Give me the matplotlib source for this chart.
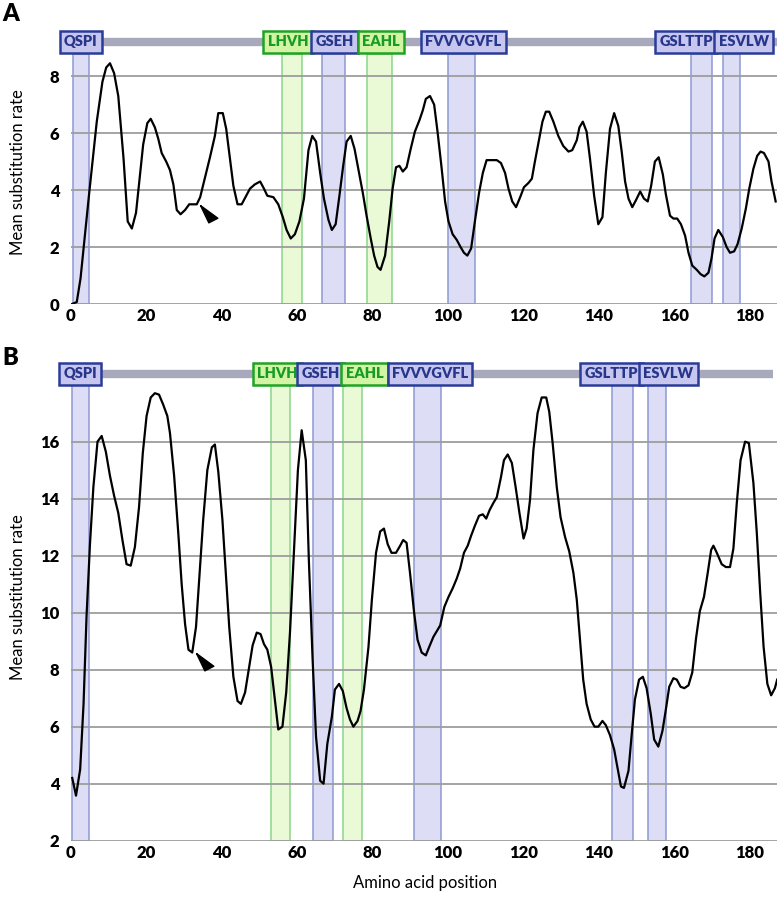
import matplotlib
matplotlib.use('Agg')
import matplotlib.pyplot as plt
from matplotlib import font_manager

# ---- panel A: mean substitution rate along the sequence
a_pos = [0.3, 1.6, 2.6, 4.9, 6.9, 8.4, 9.4, 10.4, 11.5, 12.6, 14.0, 15.1, 16.2, 17.3, 18.4, 19.2,
         20.3, 21.2, 22.3, 23.2, 24.1, 25.3, 26.3, 27.2, 28.1, 29.1, 30.3, 31.4, 33.4, 34.3, 35.6,
         36.9, 38.2, 39.1, 40.3, 41.2, 42.2, 43.1, 44.2, 45.3, 46.5, 47.5, 48.8, 50.2, 51.2, 52.1,
         53.7, 55.0, 56.2, 57.2, 58.3, 59.4, 60.6, 61.8, 63.0, 64.0, 65.0, 66.1, 67.1, 68.3, 69.2,
         70.2, 71.2, 72.2, 73.1, 74.2, 75.2, 76.2, 77.4, 78.4, 79.5, 80.4, 81.3, 82.1, 83.3, 84.4,
         85.3, 86.2, 87.1, 88.0, 89.0, 90.1, 91.2, 92.4, 93.3, 94.1, 95.2, 96.3, 97.2, 98.3, 99.2,
         100.1, 101.2, 102.3, 103.3, 104.2, 105.1, 106.1, 107.1, 108.2, 109.2, 110.2, 111.3, 112.9,
         114.0, 115.1, 116.0, 117.0, 118.0, 119.1, 120.1, 121.3, 122.2, 123.0, 124.0, 125.0, 125.9,
         126.8, 127.9, 129.2, 130.5, 131.9, 132.9, 134.1, 134.8, 135.7, 136.7, 137.6, 138.7, 139.8,
         140.9, 141.8, 142.9, 144.0, 145.1, 146.0, 146.9, 147.8, 148.8, 149.8, 150.9, 151.9, 152.9,
         153.8, 154.8, 155.8, 156.9, 157.7, 158.8, 159.7, 160.7, 161.7, 162.8, 163.7, 164.7, 165.9,
         166.9, 167.9, 169.0, 169.8, 170.6, 171.6, 172.8, 173.8, 174.7, 175.8, 176.7, 177.8, 178.9,
         179.8, 180.9, 181.9, 182.8, 183.7, 184.9, 185.7, 186.8]
a_rate = [0.0, 0.07, 0.9, 3.9, 6.4, 7.8, 8.3, 8.45, 8.1, 7.3, 5.1, 2.9, 2.65, 3.2, 4.6, 5.6,
          6.35, 6.5, 6.2, 5.8, 5.3, 5.0, 4.7, 4.2, 3.3, 3.15, 3.3, 3.5, 3.5, 3.75, 4.45,
          5.15, 5.9, 6.7, 6.7, 6.15, 5.1, 4.15, 3.5, 3.5, 3.8, 4.05, 4.2, 4.3, 4.05, 3.8,
          3.75, 3.5, 3.05, 2.6, 2.3, 2.45, 2.9, 3.7, 5.4, 5.9, 5.7, 4.6, 3.7, 2.95, 2.6,
          2.8, 3.8, 4.85, 5.7, 5.9, 5.45, 4.75, 3.9, 3.1, 2.3, 1.7, 1.3, 1.2, 1.7, 2.9,
          4.05, 4.8, 4.85, 4.65, 4.8, 5.45, 6.05, 6.45, 6.8, 7.2, 7.3, 7.0, 6.05, 4.75, 3.6,
          2.9, 2.45, 2.25, 2.0, 1.8, 1.7, 1.95, 2.9, 3.9, 4.6, 5.05, 5.05, 5.05,
          4.95, 4.6, 4.05, 3.6, 3.4, 3.75, 4.1, 4.25, 4.4, 5.0, 5.7, 6.4, 6.75,
          6.75, 6.4, 5.9, 5.55, 5.35, 5.4, 5.75, 6.2, 6.4, 6.05, 5.1, 3.8, 2.8,
          3.05, 4.6, 6.15, 6.7, 6.25, 5.35, 4.3, 3.7, 3.4, 3.65, 3.95, 3.7, 3.6,
          4.15, 5.0, 5.15, 4.55, 3.85, 3.1, 3.0, 3.0, 2.8, 2.4, 1.8, 1.35, 1.2,
          1.05, 0.97, 1.1, 1.6, 2.3, 2.6, 2.35, 2.0, 1.8, 1.85, 2.1, 2.65, 3.35,
          4.05, 4.75, 5.2, 5.35, 5.3, 5.0, 4.3, 3.6]

# ---- panel B
b_pos = [0.4, 1.4, 2.5, 3.4, 4.2, 5.1, 6.0, 7.1, 8.2, 9.3, 10.4, 11.5, 12.6, 13.7, 14.8, 15.9,
         17.0, 18.1, 19.1, 20.1, 21.2, 22.3, 23.4, 24.5, 25.6, 26.3, 27.4, 28.5, 29.4, 30.3, 31.2,
         32.2, 33.2, 34.1, 35.1, 36.2, 37.4, 38.2, 39.1, 40.2, 41.1, 42.0, 43.1, 44.2, 45.1, 46.2,
         47.3, 48.2, 49.3, 50.3, 51.2, 52.1, 53.1, 54.1, 55.0, 56.1, 57.1, 58.1, 59.2, 60.2, 61.2,
         62.3, 63.1, 64.1, 65.0, 66.1, 67.0, 68.0, 69.2, 70.0, 71.1, 72.1, 73.1, 74.0, 74.9, 76.0,
         76.8, 77.7, 78.9, 79.8, 80.9, 82.0, 83.0, 84.0, 85.0, 86.2, 87.3, 88.1, 89.0, 89.9, 91.0,
         91.9, 93.0, 94.1, 95.0, 96.1, 97.0, 97.9, 99.0, 100.1, 101.2, 102.3, 103.2, 104.2, 105.2,
         106.1, 107.1, 108.2, 109.2, 110.1, 111.0, 112.0, 112.9, 114.0, 114.8, 115.8, 116.9, 117.9,
         118.9, 120.0, 120.8, 121.7, 122.6, 123.7, 124.8, 126.0, 126.8, 127.7, 128.8, 129.8, 131.0,
         132.1, 133.2, 134.1, 135.0, 135.8, 136.7, 137.8, 138.8, 139.8, 140.9, 141.8, 142.9, 144.0,
         144.9, 145.8, 146.6, 147.8, 148.6, 149.5, 150.6, 151.6, 152.6, 153.7, 154.6, 155.7, 156.8,
         157.7, 158.6, 159.7, 160.6, 161.6, 162.6, 163.7, 164.7, 165.7, 166.7, 167.8, 168.8, 169.7,
         170.3, 171.2, 172.5, 173.6, 174.7, 175.6, 176.5, 177.5, 178.7, 179.7, 180.9, 181.8, 182.7,
         183.6, 184.6, 185.6, 186.6, 187.2]
b_rate = [4.2, 3.58, 4.5, 6.8, 9.9, 12.4, 14.4, 16.0, 16.2, 15.65, 14.8, 14.1, 13.5, 12.55, 11.7, 11.65,
          12.3, 13.7, 15.6, 16.9, 17.55, 17.7, 17.65, 17.3, 16.9, 16.3, 14.8, 12.8, 11.0, 9.6, 8.7,
          8.6, 9.5, 11.25, 13.25, 15.0, 15.8, 15.9, 14.95, 13.25, 11.4, 9.5, 7.75, 6.9, 6.8, 7.2,
          8.1, 8.85, 9.3, 9.25, 8.9, 8.7, 8.1, 6.95, 5.9, 6.0, 7.2, 9.3, 12.3, 15.0, 16.4,
          15.35, 11.85, 8.35, 5.65, 4.1, 4.0, 5.4, 6.35, 7.3, 7.5, 7.25, 6.65, 6.25, 6.0, 6.2,
          6.55, 7.3, 8.8, 10.45, 12.1, 12.85, 12.95, 12.4, 12.1, 12.1, 12.35, 12.55, 12.45, 11.4, 10.0,
          9.05, 8.6, 8.5, 8.8, 9.15, 9.35, 9.55, 10.2, 10.55, 10.85, 11.2, 11.55, 12.1, 12.35,
          12.7, 13.05, 13.4, 13.45, 13.3, 13.6, 13.85, 14.05, 14.75, 15.35, 15.55, 15.25, 14.4,
          13.5, 12.6, 12.95, 13.95, 15.7, 17.0, 17.55, 17.55, 17.05, 15.95, 14.4, 13.35, 12.65,
          12.15, 11.4, 10.45, 8.95, 7.65, 6.8, 6.25, 6.0, 6.0, 6.2, 6.05, 5.7, 5.2,
          4.55, 3.9, 3.85, 4.45, 5.65, 6.95, 7.65, 7.75, 7.35, 6.45, 5.55, 5.3, 5.85,
          6.6, 7.4, 7.7, 7.65, 7.4, 7.35, 7.45, 7.9, 9.1, 10.05, 10.55, 11.4, 12.2,
          12.35, 12.1, 11.7, 11.6, 11.6, 12.25, 13.85, 15.35, 16.0, 15.95, 14.55, 12.8, 10.7,
          8.8, 7.5, 7.1, 7.35, 7.65]

# ---- motifs (same order in both panels)
motifs = ['QSPI', 'LHVH', 'GSEH', 'EAHL', 'FVVVGVFL', 'GSLTTP', 'ESVLW']
motif_kind = ['blue', 'green', 'blue', 'green', 'blue', 'blue', 'blue']

a_band_lo = [0.5, 56.1, 66.7, 78.5, 100.1, 164.4, 172.8]
a_band_hi = [4.9, 61.3, 72.8, 85.1, 107.1, 170.0, 177.4]
a_label_x = [2.7, 57.6, 69.9, 82.2, 104.0, 163.1, 178.3]

b_band_lo = [0.4, 53.2, 64.3, 72.1, 91.0, 143.5, 152.9]
b_band_hi = [4.8, 58.0, 69.6, 77.3, 98.2, 149.1, 157.7]
b_label_x = [2.5, 54.7, 66.3, 77.8, 95.2, 143.3, 158.4]

a_yticks = [0, 2, 4, 6, 8]
b_yticks = [2, 4, 6, 8, 10, 12, 14, 16]
xticks = [0, 20, 40, 60, 80, 100, 120, 140, 160, 180]

# arrowhead tips (position, rate)
a_arrow = (34.3, 3.47)
b_arrow = (33.2, 8.6)


# pick the first family that really ships a bold face
def has_bold(fam):
    try:
        path = font_manager.findfont(font_manager.FontProperties(family=fam, weight='bold'),
                                     fallback_to_default=False)
    except Exception:
        return False
    return 'bold' in path.lower()


FAMILY = next((f for f in ['Lato', 'Open Sans', 'Noto Sans', 'Liberation Sans', 'DejaVu Sans'] if has_bold(f)),
              'DejaVu Sans')
plt.rcParams['font.family'] = [FAMILY, 'DejaVu Sans']
HEAVY = 'heavy'

colors = {
    'blue':  dict(band='#d7d7f5', band_edge='#8e9ad4', box='#c6c6ef', box_edge='#2a3c98', text='#27368a'),
    'green': dict(band='#e7f8cf', band_edge='#8ad88a', box='#d3f4a4', box_edge='#20a325', text='#169c25'),
}
GRID = '#9d9d9d'
BAR = '#a9a9bd'
XMAX = 187.15

fig = plt.figure(figsize=(7.78, 8.99), dpi=100)
ax_a = fig.add_axes([0.0909, 0.6618, 0.9078, 0.3043])
ax_b = fig.add_axes([0.0909, 0.0649, 0.9078, 0.5326])

# arrowhead shape in points, tip at origin
arrow_verts = [(0, 0), (17.3, -12.7), (8.3, -17.3), (0, 0)]


def draw_panel(ax, pos, rate, ylim, yticks, band_lo, band_hi, label_x, bar_y, box_bottom, bar_end, arrow):
    ax.set_xlim(0, XMAX)
    ax.set_ylim(*ylim)
    for s in ax.spines.values():
        s.set_visible(False)
    ax.set_xticks(xticks, [str(t) for t in xticks], fontsize=12, fontweight=HEAVY)
    ax.set_yticks(yticks, [str(t) for t in yticks], fontsize=12, fontweight=HEAVY)
    ax.tick_params(length=0)
    ax.tick_params(axis='y', pad=8)
    ax.tick_params(axis='x', pad=3)

    for t in yticks:
        ax.axhline(t, color=GRID, lw=1.3, zorder=1)

    frac = (box_bottom - ylim[0]) / (ylim[1] - ylim[0])
    for lo, hi, kind in zip(band_lo, band_hi, motif_kind):
        c = colors[kind]
        ax.axvspan(lo, hi, ymin=0, ymax=frac, facecolor=c['band'], edgecolor=c['band_edge'],
                   lw=1.3, alpha=0.85, zorder=0.5)

    ax.plot([label_x[0], bar_end], [bar_y, bar_y], color=BAR, lw=6, solid_capstyle='butt', zorder=2)
    for name, x, kind in zip(motifs, label_x, motif_kind):
        c = colors[kind]
        ax.text(x, bar_y, name, ha='center', va='center', fontsize=10.5, fontweight=HEAVY,
                color=c['text'], zorder=4,
                bbox=dict(boxstyle='square,pad=0.3', facecolor=c['box'], edgecolor=c['box_edge'], lw=1.8))

    ax.plot(pos, rate, color='black', lw=1.6, zorder=3)
    ax.plot(arrow[0], arrow[1], marker=arrow_verts, ms=25, color='black', zorder=5)


draw_panel(ax_a, a_pos, a_rate, (0, 9.6), a_yticks, a_band_lo, a_band_hi, a_label_x,
           9.2, 8.77, XMAX, a_arrow)
draw_panel(ax_b, b_pos, b_rate, (2, 18.8), b_yticks, b_band_lo, b_band_hi, b_label_x,
           18.38, 18.02, 186.0, b_arrow)

fig.text(0.023, 0.8087, 'Mean substitution rate', rotation=90, ha='center', va='center', fontsize=12)
fig.text(0.023, 0.336, 'Mean substitution rate', rotation=90, ha='center', va='center', fontsize=12)
fig.text(0.546, 0.0178, 'Amino acid position', ha='center', va='center', fontsize=12)
fig.text(0.003, 0.984, 'A', fontsize=17, fontweight=HEAVY, va='center', ha='left')
fig.text(0.003, 0.6018, 'B', fontsize=17, fontweight=HEAVY, va='center', ha='left')

fig.savefig('out.png', dpi=100)
